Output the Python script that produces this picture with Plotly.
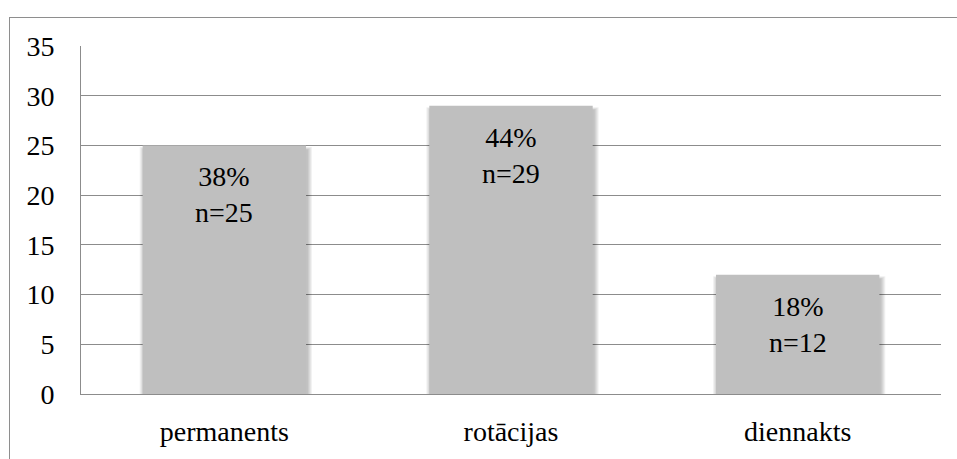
import plotly.graph_objects as go

# Shift types and respondent counts
categories = ["permanents", "rotācijas", "diennakts"]
counts = [25, 29, 12]
y_ticks = [0, 5, 10, 15, 20, 25, 30, 35]

W, H = 957, 459
M_L, M_R, M_T, M_B = 81, 16, 46, 56
plot_w = W - M_L - M_R
plot_h = H - M_T - M_B
y_max = 35
bar_w = 0.57

px_x = plot_w / len(categories)   # pixels per category unit
px_y = plot_h / y_max             # pixels per value unit

total = sum(counts)
labels = [f"{round(100 * c / total)}%<br>n={c}" for c in counts]

FONT = "Times New Roman"
GRID = "#8C8C8C"
CLEAR = "rgba(0,0,0,0)"

positions = list(range(len(categories)))

fig = go.Figure()

# soft drop shadow: a few translucent, slightly wider bars behind each bar
for k in range(5):
    grow = (k + 0.5) / px_x
    base = -(k + 2.0) / px_y
    tops = [c - (4.0 - 0.6 * k) / px_y for c in counts]
    fig.add_trace(go.Bar(
        x=[p + 1.5 / px_x for p in positions],
        y=[t - base for t in tops],
        base=[base] * len(counts),
        width=bar_w + 2 * grow,
        marker=dict(color="rgba(0,0,0,0.05)", line=dict(width=0)),
    ))

fig.add_trace(go.Bar(
    x=positions,
    y=counts,
    width=bar_w,
    marker=dict(color="#BFBFBF", line=dict(width=0)),
))

# outer chart frame: an empty bordered box whose right/bottom edges sit off the page
frame_x = (9 - M_L) / plot_w
frame_y = (H - M_B - 16) / plot_h
annotations = [dict(
    xref="paper", yref="paper", x=frame_x, y=frame_y,
    xanchor="left", yanchor="top", text=" ", showarrow=False,
    width=W + 40, height=H + 40, borderpad=0,
    bordercolor="#8E8E8E", borderwidth=1,
)]

for i, (c, t) in enumerate(zip(counts, labels)):
    annotations.append(dict(
        x=i, y=c, xref="x", yref="y", text=t, showarrow=False,
        yanchor="top", yshift=-14,
        font=dict(family=FONT, size=28, color="black"),
    ))

fig.update_layout(
    width=W, height=H,
    margin=dict(l=M_L, r=M_R, t=M_T, b=M_B),
    paper_bgcolor="white", plot_bgcolor="white",
    showlegend=False,
    barmode="overlay",
    annotations=annotations,
    xaxis=dict(
        tickmode="array", tickvals=positions, ticktext=categories,
        range=[-0.5, len(categories) - 0.5],
        showgrid=False, zeroline=False,
        showline=True, linecolor=GRID, linewidth=1,
        ticks="outside", ticklen=12, tickcolor=CLEAR,
        tickfont=dict(family=FONT, size=28, color="black"),
    ),
    yaxis=dict(
        range=[0, y_max], tickmode="array", tickvals=y_ticks,
        showgrid=True, gridcolor=GRID, gridwidth=1,
        zeroline=False,
        showline=True, linecolor=GRID, linewidth=1,
        ticks="outside", ticklen=20, tickcolor=CLEAR,
        tickfont=dict(family=FONT, size=28, color="black"),
    ),
)

fig.write_html("out.html")
